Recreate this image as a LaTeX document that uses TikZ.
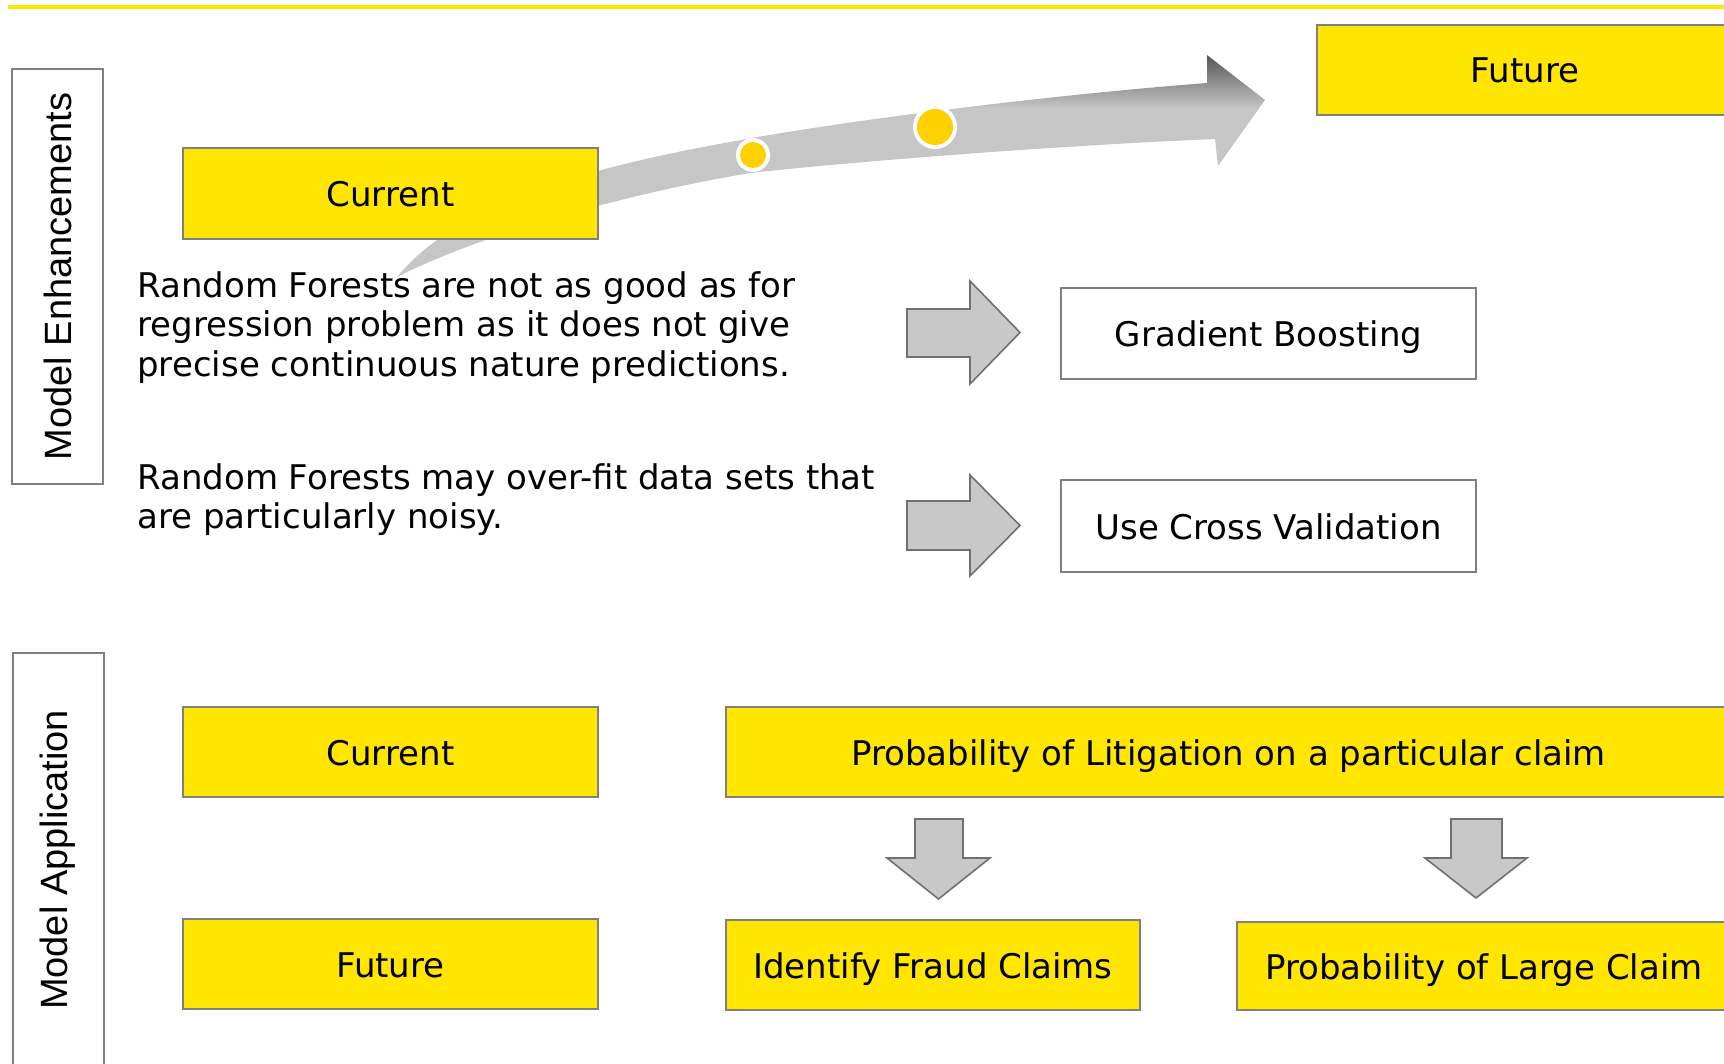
\documentclass[tikz,border=0pt]{standalone}
\usepackage{fontspec}
\setmainfont{DejaVu Sans}
\newfontfamily\labelfont{Liberation Sans}
\definecolor{boxyellow}{HTML}{FFE600}
\definecolor{dotyellow}{HTML}{FFD000}
\definecolor{boxline}{HTML}{808080}
\definecolor{arrowfill}{HTML}{C8C8C8}
\definecolor{arrowline}{HTML}{707070}
\definecolor{arrowlight}{HTML}{C6C6C6}
\definecolor{arrowdark}{HTML}{555555}
\pgfdeclareverticalshading{curveshade}{100bp}{color(0bp)=(arrowlight); color(63bp)=(arrowlight); color(75bp)=(arrowdark); color(100bp)=(arrowdark)}
\begin{document}
\begin{tikzpicture}[x=0.5pt,y=-0.5pt,
  boxtext/.style={font=\fontsize{17pt}{20pt}\selectfont, text=black, text height=13pt, text depth=0pt},
  ybox/.style={boxtext, draw=boxline, line width=1pt, fill=boxyellow, inner sep=0pt, minimum width=207.5pt, minimum height=45.5pt},
  wbox/.style={boxtext, draw=boxline, line width=1pt, fill=white, inner sep=0pt, minimum width=207.5pt, minimum height=45.5pt},
  sidebox/.style={draw=boxline, line width=1pt, inner sep=0pt, rotate=90, font=\labelfont\fontsize{19pt}{22pt}\selectfont, minimum width=207.5pt, minimum height=45.5pt},
  para/.style={font=\fontsize{17pt}{19.75pt}\selectfont, align=left, inner sep=0pt, anchor=base west},
  blockarrow/.style={draw=arrowline, line width=0.8pt, fill=arrowfill, line join=miter},
  ring/.style={fill=white},
  dot/.style={fill=dotyellow}
]
\useasboundingbox (0,0) rectangle (1724,1064);
\clip (0,0) rectangle (1724,1064);

% top rule
\fill[boxyellow] (8,5) rectangle (1724,9);

% side label boxes
\node[sidebox] (me) at (57.5,276.5) {Model Enhancements};
\node[sidebox, minimum width=207pt] (ma) at (58,860) {Model Application};

% curved progress arrow (behind the Current box)
\path[shading=curveshade]
  (397,277) .. controls (480,235) and (620,195) .. (750,173)
  .. controls (850,162) and (1050,146) .. (1215,139)
  -- (1218,166) -- (1265,100) -- (1207,55) -- (1207,83)
  .. controls (1050,95) and (850,120) .. (741,140)
  .. controls (600,165) and (460,200) .. (397,277) -- cycle;
\fill[ring] (753,155) circle[radius=8.5pt];
\fill[dot]  (753,155) circle[radius=6.5pt];
\fill[ring] (935,127) circle[radius=11pt];
\fill[dot]  (935,127) circle[radius=9pt];

% top section boxes
\node[ybox] (cur1) at (390.5,193.5) {Current};
\node[ybox, minimum width=208pt, minimum height=45pt] (fut1) at (1525,70) {Future};

% statements (anchored at the baseline of their last line)
\node[para] (p1) at (137,376) {Random Forests are not as good as for\\regression problem as it does not give\\precise continuous nature predictions.};
\node[para] (p2) at (137,528.5) {Random Forests may over-fit data sets that\\are particularly noisy.};

% right block arrows
\path[blockarrow] (907,309) -- (970,309) -- (970,281) -- (1020,332.5) -- (970,384) -- (970,357) -- (907,357) -- cycle;
\path[blockarrow] (907,501) -- (970,501) -- (970,475) -- (1020,525.5) -- (970,576) -- (970,550) -- (907,550) -- cycle;

\node[wbox] (gb) at (1268.5,333.5) {Gradient Boosting};
\node[wbox, minimum height=46pt] (cv) at (1268.5,526) {Use Cross Validation};

% bottom section
\node[ybox, minimum height=45pt] (cur2) at (390.5,752) {Current};
\node[ybox, minimum height=45pt] (fut2) at (390.5,964) {Future};
\node[ybox, minimum width=502.5pt, minimum height=45pt] (plit) at (1228.5,752) {Probability of Litigation on a particular claim};

\path[blockarrow] (915,819) -- (963,819) -- (963,858) -- (990,858) -- (938.5,899) -- (887,858) -- (915,858) -- cycle;
\path[blockarrow] (1451,819) -- (1502,819) -- (1502,858) -- (1527,858) -- (1476,898) -- (1425,858) -- (1451,858) -- cycle;

\node[ybox, minimum width=207pt, minimum height=45pt] (fraud) at (933,965) {Identify Fraud Claims};
\node[ybox, minimum width=247pt, minimum height=44pt] (large) at (1484,966) {Probability of Large Claim};
\end{tikzpicture}
\end{document}
